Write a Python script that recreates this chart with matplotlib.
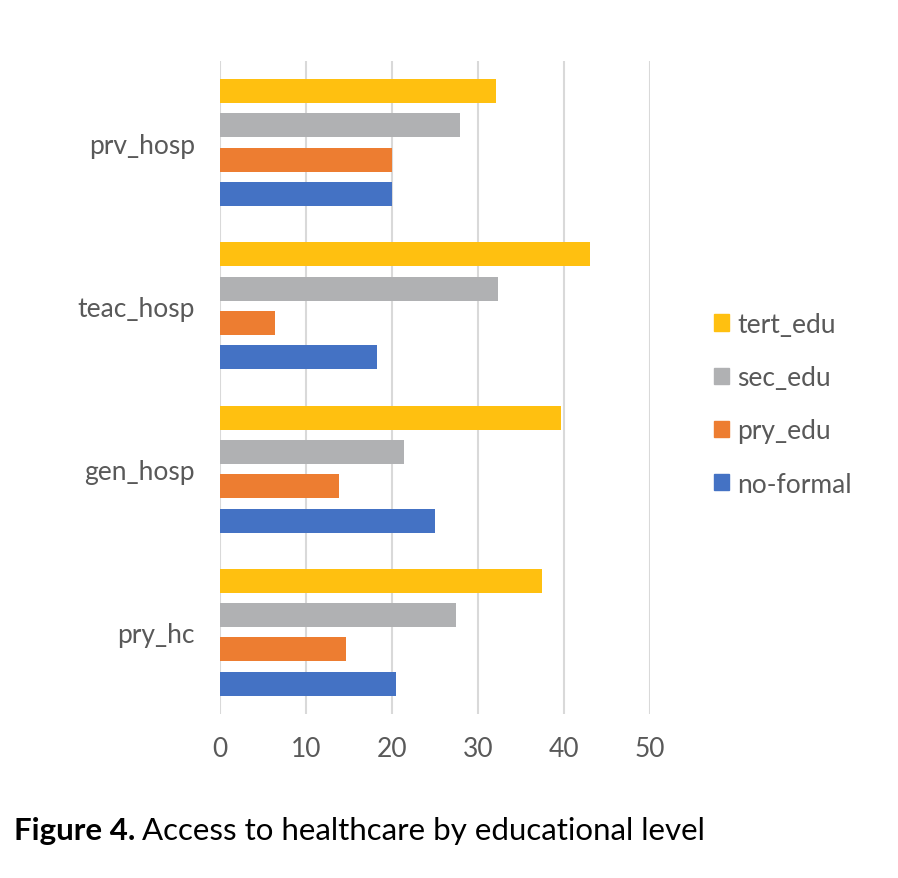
import numpy as np
import matplotlib.pyplot as plt
from matplotlib.patches import Patch

# data
facilities = ['pry_hc', 'gen_hosp', 'teac_hosp', 'prv_hosp']
no_formal = [20.45, 25.0, 18.3, 20.0]
pry_edu = [14.6, 13.8, 6.45, 20.0]
sec_edu = [27.5, 21.4, 32.3, 27.9]
tert_edu = [37.5, 39.7, 43.0, 32.1]

series = [('no-formal', no_formal, '#4472c4'),
          ('pry_edu', pry_edu, '#ed7d31'),
          ('sec_edu', sec_edu, '#b0b1b3'),
          ('tert_edu', tert_edu, '#ffc010')]

plt.rcParams['font.family'] = ['Lato', 'DejaVu Sans']

fig = plt.figure(figsize=(8.98, 8.79), dpi=100)
ax = fig.add_axes([0.245, 0.1866, 0.4788, 0.7429])

y = np.arange(len(facilities))
step = 0.21
h = 0.147
for i, (name, vals, col) in enumerate(series):
    ax.barh(y + (i - 1.5) * step, vals, height=h, color=col, zorder=3)

ax.set_xlim(0, 50)
ax.set_ylim(-0.5, 3.5)
ax.set_xticks(range(0, 51, 10))
ax.set_yticks(y)
ax.set_yticklabels(facilities)
ax.grid(axis='x', color='#d9d9d9', linewidth=1.5, zorder=0)
for s in ax.spines.values():
    s.set_visible(False)
ax.tick_params(length=0, labelsize=19, colors='#595959')
ax.tick_params(axis='x', pad=16)
ax.tick_params(axis='y', pad=18)

handles = [Patch(color=c, label=n) for n, _, c in reversed(series)]
fig.legend(handles=handles, loc='center left', bbox_to_anchor=(0.769, 0.539),
           frameon=False, fontsize=19, handlelength=0.57, handleheight=0.57,
           handletextpad=0.3, labelspacing=1.07, labelcolor='#595959')

# caption: bold label followed by normal text
t1 = fig.text(0.016, 0.044, 'Figure 4.', fontsize=22.5, fontweight='bold', va='baseline')
fig.canvas.draw()
bb = t1.get_window_extent()
fig.text((bb.x1 + 6) / fig.bbox.width, 0.044, 'Access to healthcare by educational level',
         fontsize=22.5, va='baseline')

fig.savefig('out.png', dpi=100)
